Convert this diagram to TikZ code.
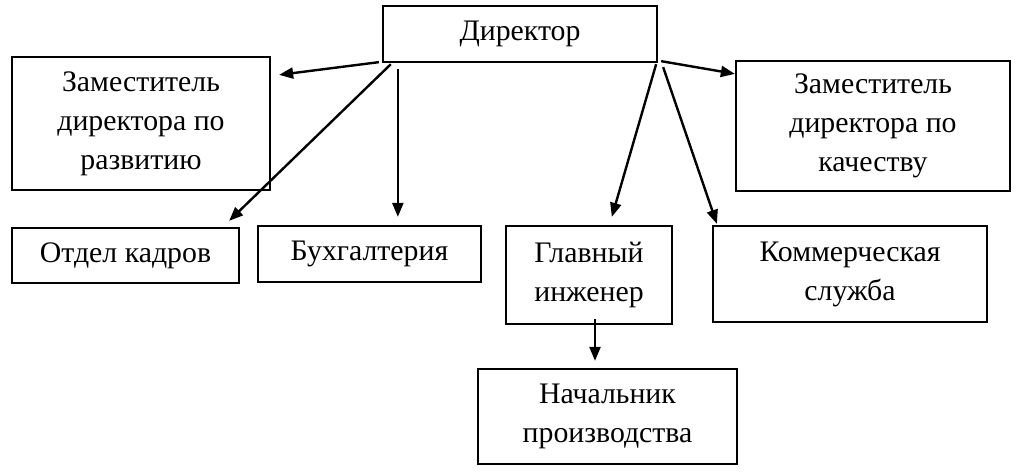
\documentclass[tikz,border=0pt]{standalone}
\usepackage{fontspec}
\setmainfont{Liberation Serif}
\usetikzlibrary{arrows.meta}
\begin{document}
\begin{tikzpicture}[x=1pt,y=-1pt,
  box/.style={draw=black,line width=2.3pt,rectangle,inner sep=0pt,align=center,
    font=\fontsize{29.8}{39}\selectfont},
  arr/.style={line width=2.4pt,-{Triangle[length=14pt,width=11pt]}}]
\useasboundingbox (0,0) rectangle (1021,475);
\node[box,minimum width=274pt,minimum height=56pt] (dir) at (520,34) {Директор};
\node[box,minimum width=258pt,minimum height=133pt] (zr) at (141,123.5) {Заместитель\\директора по\\развитию};
\node[box,minimum width=274pt,minimum height=130pt] (zk) at (873,126) {Заместитель\\директора по\\качеству};
\node[box,minimum width=227pt,minimum height=55pt] (ok) at (125.5,255.5) {Отдел кадров};
\node[box,minimum width=223pt,minimum height=56pt] (bu) at (369.5,254) {Бухгалтерия};
\node[box,minimum width=166pt,minimum height=98pt] (gi) at (589,275) {Главный\\инженер};
\node[box,minimum width=274pt,minimum height=96pt] (ks) at (850,274) {Коммерческая\\служба};
\node[box,minimum width=259pt,minimum height=95pt] (np) at (607.5,416.5) {Начальник\\производства};
\draw[arr] ([shift={(-3,-1)}]dir.south west) -- ([shift={(8,19)}]zr.north east);
\draw[arr] ([shift={(9,1)}]dir.south west) -- ([shift={(-11,-6)}]ok.north east);
\draw[arr] ([shift={(16,6)}]dir.south west) -- ([shift={(141,-8)}]bu.north west);
\draw[arr] ([shift={(-2,1)}]dir.south east) -- ([shift={(107,-8)}]gi.north west);
\draw[arr] ([shift={(5,4)}]dir.south east) -- ([shift={(5,-1)}]ks.north west);
\draw[arr] ([shift={(3,-2)}]dir.south east) -- ([shift={(0,14)}]zk.north west);
\draw[arr] ([shift={(6,-6)}]gi.south) -- ([shift={(-12.5,-7)}]np.north);
\end{tikzpicture}
\end{document}
